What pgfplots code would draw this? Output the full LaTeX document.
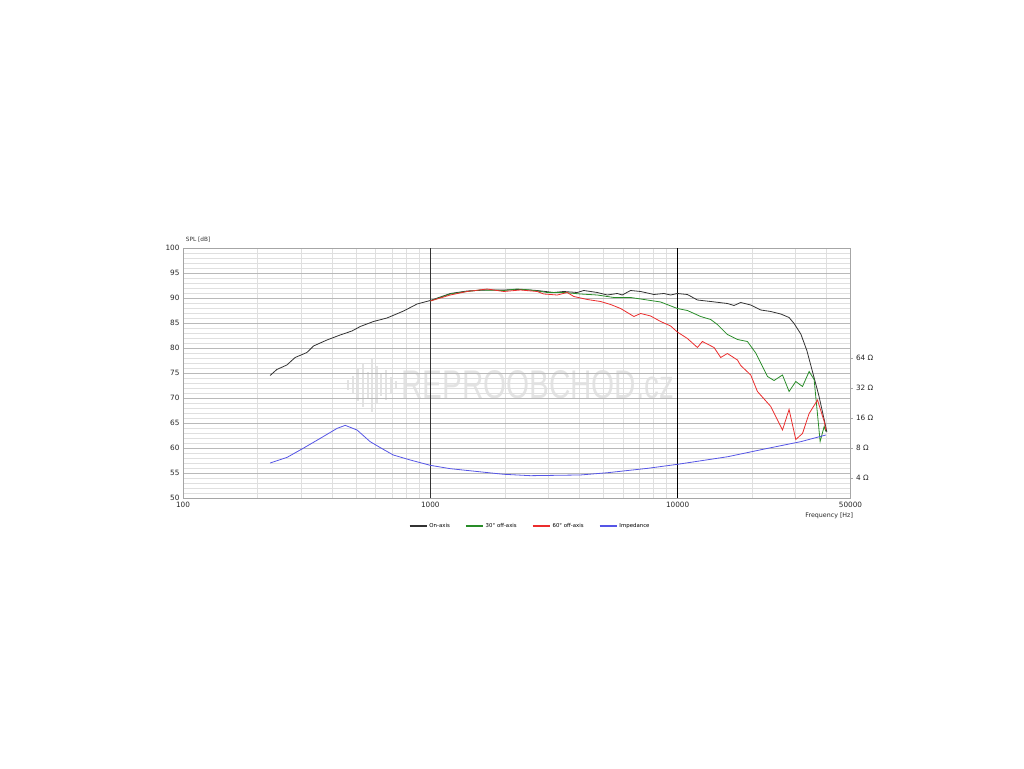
\documentclass[border=0pt]{standalone}
\usepackage{pgfplots}
\pgfplotsset{compat=1.18}
\usepackage{fontspec}
\setmainfont{DejaVu Sans}
\newfontfamily\wmfont{Liberation Sans}

\definecolor{conaxis}{RGB}{50,50,50}
\definecolor{cgreen}{RGB}{40,140,40}
\definecolor{cred}{RGB}{235,45,45}
\definecolor{cblue}{RGB}{85,85,230}

\pgfplotstableread{
f db
225 74.5
239.5 75.7
263 76.6
284 78.1
317 79.1
337 80.4
382 81.6
432 82.6
482 83.4
521 84.3
589 85.3
668 86.0
780 87.4
884 88.8
1000 89.5
1205 90.9
1408 91.4
1697 91.6
1981 91.6
2314 91.7
2704 91.5
3157 91.1
3465 91.3
3925 91.1
4175 91.5
4731 91.1
5193 90.6
5700 90.9
5971 90.6
6452 91.5
7085 91.3
8017 90.7
8801 90.9
9369 90.6
9972 90.9
10950 90.7
12020 89.6
13600 89.3
15890 88.9
16900 88.5
17990 89.1
19750 88.6
21680 87.6
23800 87.3
26120 86.8
28220 86.1
29570 84.9
31480 82.8
33300 79.5
35210 75.0
37230 70.5
39010 66.0
40120 63.2
}\onaxis

\pgfplotstableread{
f db
1000 89.4
1205 90.8
1408 91.3
1594 91.6
1981 91.5
2244 91.8
2540 91.6
2968 91.1
3465 91.1
4049 90.8
4731 90.6
5523 90.1
6452 90.1
7541 89.6
8534 89.2
9972 87.9
10950 87.5
12390 86.3
13600 85.7
14480 84.7
15890 82.7
17450 81.7
19150 81.3
20690 79.0
21680 77.0
23080 74.3
24540 73.5
26540 74.6
28220 71.3
30040 73.3
31980 72.3
34020 75.3
35630 73.7
36780 66.7
37680 61.3
39130 64.3
39750 63.3
}\offthirty

\pgfplotstableread{
f db
1000 89.4
1205 90.6
1408 91.3
1697 91.8
1981 91.3
2314 91.6
2704 91.3
2875 90.8
3258 90.6
3576 91.1
3804 90.3
4310 89.7
4879 89.3
5356 88.7
5877 87.9
6654 86.3
7085 86.9
7778 86.4
8534 85.3
9369 84.4
9972 83.2
10950 81.9
12020 80.1
12590 81.3
14030 80.1
14930 78.1
15890 78.9
17450 77.6
17990 76.5
19750 74.6
21020 71.3
23800 68.3
26540 63.6
28220 67.7
30040 61.7
31980 62.9
34020 66.9
36780 69.6
39130 65.3
39750 63.6
}\offsixty

\pgfplotstableread{
f ohm
225 5.66
264 6.46
306 7.94
359 10.0
420 12.6
453 13.5
506 12.1
571 9.26
645 7.76
708 6.81
830 6.06
1000 5.36
1205 4.96
1975 4.36
2540 4.22
4050 4.29
5210 4.52
7560 5.0
10000 5.49
15940 6.54
23130 7.94
31470 9.26
39720 10.8
}\impedance

\begin{document}
\begin{tikzpicture}[x=1pt,y=1pt]
\path[use as bounding box] (0,0) rectangle (1024,768);

% watermark
\begin{scope}[gray!22]
\foreach \xx/\hh in {348/5,353/9,358/16,363/22,368/13,372/27,377/19,381/11,386/15,391/8,396/4}
  \fill (\xx-1.2,383-\hh) rectangle (\xx+1.2,383+\hh);
\node[anchor=west, xscale=0.74, inner sep=0pt] at (401,383) {\wmfont\fontsize{40}{40}\selectfont REPROOBCHOD.cz};
\end{scope}

\begin{axis}[
  at={(183pt,270pt)}, anchor=south west,
  scale only axis, width=667.5pt, height=250pt,
  xmode=log, xmin=100, xmax=50000,
  ymin=50, ymax=100,
  xtick={1000,10000}, xticklabels={1000,10000},
  extra x ticks={100,50000}, extra x tick labels={100,50000},
  extra x tick style={grid=none},
  minor xtick={200,300,400,500,600,700,800,900,2000,3000,4000,5000,6000,7000,8000,9000,20000,30000,40000},
  ytick={50,55,...,100},
  minor y tick num=4,
  grid=both,
  major grid style={gray!55, line width=0.4pt},
  minor grid style={gray!25, line width=0.4pt},
  major tick length=0pt, minor tick length=0pt,
  axis line style={gray!70},
  ticklabel style={font=\fontsize{7.3}{8}\selectfont, text=black!85},
  /pgf/number format/assume math mode=true,
  xticklabel style={yshift=-1pt},
  legend style={at={(0.52,-0.083)}, anchor=north, draw=none, fill=none,
    legend columns=4, font=\fontsize{5.4}{6}\selectfont,
    /tikz/every even column/.append style={column sep=13pt}},
  legend image code/.code={\draw[#1, line width=1.8pt] (0pt,0pt) -- (17pt,0pt);},
  clip=false,
]
\draw[black!80, line width=0.6pt] (axis cs:1000,50) -- (axis cs:1000,100);
\draw[black, line width=0.7pt] (axis cs:10000,50) -- (axis cs:10000,100);
\addplot[conaxis, line width=0.8pt] table[x=f, y=db] {\onaxis};
\addlegendentry{On-axis}
\addplot[cgreen, line width=0.8pt] table[x=f, y=db] {\offthirty};
\addlegendentry{30° off-axis}
\addplot[cred, line width=0.8pt] table[x=f, y=db] {\offsixty};
\addlegendentry{60° off-axis}
\addlegendimage{cblue}
\addlegendentry{Impedance}
\node[anchor=south west, font=\fontsize{5.8}{6}\selectfont, text=black!80, inner sep=0pt] at (axis description cs:0.004,1.022) {SPL [dB]};
\node[anchor=north east, font=\fontsize{6.3}{7}\selectfont, text=black!85, inner sep=0pt] at (axis description cs:1.004,-0.058) {Frequency [Hz]};
\end{axis}

\begin{axis}[
  at={(183pt,270pt)}, anchor=south west,
  scale only axis, width=667.5pt, height=250pt,
  xmode=log, xmin=100, xmax=50000,
  ymode=log, ymin=2.5198, ymax=812.7,
  axis x line=none, axis y line*=right,
  axis line style={gray!70},
  ytick={4,8,16,32,64}, yticklabels={4 Ω,8 Ω,16 Ω,32 Ω,64 Ω},
  minor ytick={},
  tick align=outside, major tick length=2pt,
  ytick style={gray!70},
  yticklabel style={font=\fontsize{7.3}{8}\selectfont, text=black!85, anchor=west},
]
\addplot[cblue, line width=0.8pt] table[x=f, y=ohm] {\impedance};
\end{axis}
\end{tikzpicture}
\end{document}
